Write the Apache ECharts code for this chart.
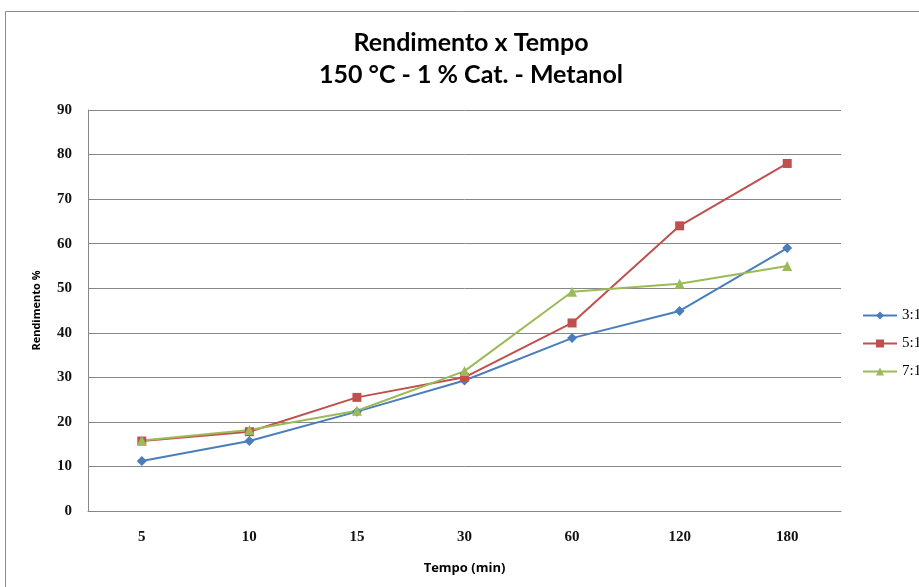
<!DOCTYPE html>
<html><head><meta charset="utf-8">
<script src="https://cdn.jsdelivr.net/npm/echarts@6/dist/echarts.min.js"></script>
<style>html,body{margin:0;padding:0;background:#fff}#c{width:919px;height:587px}</style>
</head><body><div id="c"></div>
<script>
const categories = ['5','10','15','30','60','120','180'];
const s31 = [11.2, 15.7, 22.3, 29.3, 38.8, 44.9, 59.0];
const s51 = [15.7, 17.8, 25.5, 30.0, 42.2, 64.0, 78.0];
const s71 = [15.8, 18.2, 22.5, 31.4, 49.2, 51.0, 55.0];
const seriesNames = ['3:1','5:1','7:1'];

const chart = echarts.init(document.getElementById('c'));
const lab = {fontFamily:'Liberation Serif', fontWeight:'bold', fontSize:15, color:'#111'};
function mk(name, data, color, symbol, size){
  return {name, type:'line', data, symbol, symbolSize:size, showSymbol:true,
    lineStyle:{color, width:2}, itemStyle:{color}, emphasis:{disabled:true}, z:3};
}
chart.setOption({
  animation:false,
  graphic:[{type:'rect', shape:{x:5.5,y:11.5,width:1000,height:700}, style:{fill:null, stroke:'#8c8c8c', lineWidth:1}, silent:true}],
  title:{text:'Rendimento x Tempo\n150 °C - 1 % Cat. - Metanol', left:466, top:22, textAlign:'center',
    textStyle:{fontFamily:'Lato', fontWeight:'bold', fontSize:25, lineHeight:32, color:'#000'}},
  legend:{orient:'vertical', left:857, top:303, itemGap:13, itemWidth:34, itemHeight:10,
    data:seriesNames, textStyle:{fontFamily:'Liberation Serif', fontSize:15, color:'#000'}},
  grid:{left:88, right:78, top:110, bottom:76, containLabel:false},
  xAxis:{type:'category', data:categories, boundaryGap:true,
    name:'Tempo (min)', nameLocation:'middle', nameGap:51,
    nameTextStyle:{fontFamily:'Open Sans', fontWeight:'bold', fontSize:13, color:'#000'},
    axisLine:{lineStyle:{color:'#868686', width:1}}, axisTick:{show:false},
    axisLabel:Object.assign({margin:19}, lab)},
  yAxis:{type:'value', min:0, max:90, interval:10,
    name:'Rendimento %', nameLocation:'middle', nameGap:46, nameRotate:90,
    nameTextStyle:{fontFamily:'Open Sans', fontWeight:'bold', fontSize:11, color:'#000'},
    axisLine:{show:true, lineStyle:{color:'#868686', width:1}}, axisTick:{show:false},
    splitLine:{lineStyle:{color:'#868686', width:1}},
    axisLabel:Object.assign({margin:16}, lab)},
  series:[
    mk('3:1', s31, '#4A7EBB', 'diamond', 10),
    mk('5:1', s51, '#C0504D', 'rect', 9),
    mk('7:1', s71, '#9BBB59', 'triangle', 10)
  ]
});
</script></body></html>
